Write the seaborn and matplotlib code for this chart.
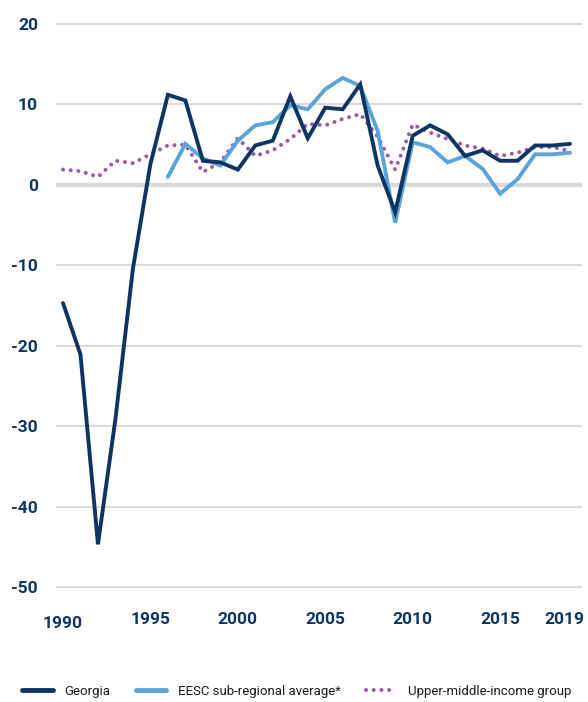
import numpy as np
import pandas as pd
import matplotlib
matplotlib.use("Agg")
import matplotlib.pyplot as plt
import matplotlib.transforms as mtransforms
import seaborn as sns
from matplotlib.lines import Line2D

years = list(range(1990, 2020))
georgia = [-14.7, -21.1, -44.7, -29.1, -10.4, 2.6, 11.2, 10.5, 3.0, 2.8,
           1.9, 4.9, 5.5, 11.0, 5.8, 9.6, 9.4, 12.5, 2.4, -3.4,
           6.1, 7.4, 6.3, 3.6, 4.3, 3.0, 3.0, 4.9, 4.9, 5.1]
eesc_years = list(range(1996, 2020))
eesc = [1.0, 5.1, 3.3, 2.4, 5.5, 7.4, 7.8, 9.9, 9.4, 11.9,
        13.3, 12.3, 6.7, -4.7, 5.3, 4.7, 2.8, 3.6, 2.0, -1.1,
        0.7, 3.8, 3.8, 4.0]
umi = [1.9, 1.7, 1.0, 3.0, 2.7, 3.8, 4.9, 5.0, 1.6, 2.8,
       5.8, 3.6, 4.3, 5.7, 7.6, 7.4, 8.2, 8.8, 6.0, 1.9,
       7.5, 6.5, 5.7, 4.9, 4.5, 3.6, 4.0, 4.7, 4.7, 4.2]
xticks = [1990, 1995, 2000, 2005, 2010, 2015, 2019]
yticks = [-50, -40, -30, -20, -10, 0, 10, 20]
labels = ["Georgia", "EESC sub-regional average*", "Upper-middle-income group"]

NAVY = "#0c3563"
BLUE = "#5ba3d9"
PURPLE = "#9b5aa8"

sns.set_theme(style="white")
plt.rcParams['font.family'] = ['Roboto', 'DejaVu Sans']
plt.rcParams['axes.unicode_minus'] = False

fig = plt.figure(figsize=(5.88, 7.02), dpi=100)
ax = fig.add_axes([56/588, 1 - 595/702, 526/588, (595-16)/702])

dotted = (0, (0.01, 1.9))
sns.lineplot(x=years, y=umi, ax=ax, color=PURPLE, linewidth=2.9,
             linestyle=dotted, dash_capstyle="round", zorder=3)
sns.lineplot(x=eesc_years, y=eesc, ax=ax, color=BLUE, linewidth=2.8, zorder=4)
sns.lineplot(x=years, y=georgia, ax=ax, color=NAVY, linewidth=2.8, zorder=5)
for l in ax.lines:
    l.set_solid_joinstyle("miter")

ax.set_xlim(1990 - 7/17.48, 2019 + 12/17.48)
ax.set_ylim(-51, 21)
ax.set_yticks(yticks)
ax.set_xticks(xticks)
for v in yticks:
    if v == 0:
        ax.axhline(v, color="#d9d9d9", lw=3.2, zorder=1)
    else:
        ax.axhline(v, color="#cfcfcf", lw=1.1, zorder=1)
for s in ax.spines.values():
    s.set_visible(False)
ax.tick_params(axis="both", length=0, labelsize=12.5, labelcolor=NAVY)
ax.tick_params(axis="y", pad=13)
ax.tick_params(axis="x", pad=12)
for t in ax.get_yticklabels() + ax.get_xticklabels():
    t.set_fontweight("bold")
ax.set_xlabel("")
ax.set_ylabel("")

xt = ax.get_xticklabels()
xt[0].set_transform(xt[0].get_transform() +
                    mtransforms.ScaledTranslation(0, -4/100, fig.dpi_scale_trans))
xt[-1].set_transform(xt[-1].get_transform() +
                     mtransforms.ScaledTranslation(-6/100, 0, fig.dpi_scale_trans))

handles = [Line2D([], [], color=NAVY, lw=3.5),
           Line2D([], [], color=BLUE, lw=3.5),
           Line2D([], [], color=PURPLE, lw=2.9, linestyle=dotted, dash_capstyle="round")]
fig.legend(handles, labels, loc="center", bbox_to_anchor=(0.505, 1 - 691/702),
           ncol=3, frameon=False, fontsize=9.5, handlelength=2.3,
           columnspacing=1.9, handletextpad=0.9, labelcolor="#1a1a1a")

fig.savefig("out.png", dpi=100)
